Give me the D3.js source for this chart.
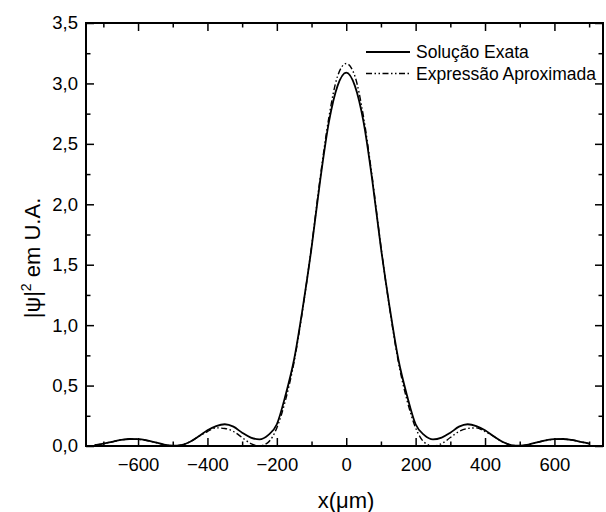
<!DOCTYPE html>
<html><head><meta charset="utf-8">
<script src="https://cdn.jsdelivr.net/npm/d3@7"></script>
<style>body{margin:0;background:#fff}svg{display:block}text{font-family:"Liberation Sans",Arial,sans-serif;fill:#000}</style>
</head><body><svg id="c" width="606" height="512"></svg>
<script>
const xValues = [-725,-700,-675,-650,-625,-600,-575,-550,-525,-500,-475,-450,-425,-400,-375,-350,-325,-300,-275,-250,-225,-200,-175,-150,-125,-100,-75,-50,-25,0,25,50,75,100,125,150,175,200,225,250,275,300,325,350,375,400,425,450,475,500,525,550,575,600,625,650,675,700];
const exact = [0.008,0.02,0.035,0.05,0.058,0.057,0.047,0.03,0.012,0.003,0.008,0.035,0.08,0.13,0.165,0.18,0.16,0.11,0.07,0.055,0.09,0.18,0.42,0.72,1.15,1.64,2.20,2.68,2.98,3.09,2.98,2.68,2.20,1.64,1.15,0.72,0.42,0.18,0.09,0.055,0.07,0.11,0.16,0.18,0.165,0.13,0.08,0.035,0.008,0.003,0.012,0.03,0.047,0.057,0.058,0.05,0.035,0.02];
const approx = [0.008,0.02,0.035,0.05,0.056,0.055,0.045,0.03,0.01,0.0,0.008,0.035,0.08,0.12,0.15,0.145,0.12,0.07,0.02,0.0,0.03,0.15,0.38,0.70,1.14,1.65,2.22,2.72,3.06,3.165,3.06,2.72,2.22,1.65,1.14,0.70,0.38,0.15,0.03,0.0,0.02,0.07,0.12,0.145,0.15,0.12,0.08,0.035,0.008,0.0,0.01,0.03,0.045,0.055,0.056,0.05,0.035,0.02];
const xTicks = [-600,-400,-200,0,200,400,600];
const xMinor = [-700,-500,-300,-100,100,300,500,700];
const yTicks = [0,0.5,1.0,1.5,2.0,2.5,3.0,3.5];
const yMinor = [0.25,0.75,1.25,1.75,2.25,2.75,3.25];
const seriesNames = ["Solução Exata","Expressão Aproximada"];

const L=86,R=603,T=23,B=446;
const svg=d3.select("#c");
const x=d3.scaleLinear().domain([-750,740]).range([L,R]);
const y=d3.scaleLinear().domain([0,3.5]).range([B,T]);
const fmt=d=>d3.format(".1f")(d).replace(".",",");

// curves
const line=d3.line().x((d,i)=>x(xValues[i])).y(d=>y(d)).curve(d3.curveMonotoneX);
svg.append("path").attr("d",line(approx)).attr("fill","none").attr("stroke","#000").attr("stroke-width",1.4).attr("stroke-dasharray","6,2.5,1.5,2.5,1.5,2.5");
svg.append("path").attr("d",line(exact)).attr("fill","none").attr("stroke","#000").attr("stroke-width",1.8);

// axes
const ax=(g,axis)=>{g.call(axis);g.select(".domain").remove();g.selectAll("line").attr("stroke","#000").attr("stroke-width",1.5);};
ax(svg.append("g").attr("transform",`translate(0,${B})`),d3.axisBottom(x).tickValues(xTicks).tickSize(-8).tickPadding(12).tickFormat(d3.format("d")));
ax(svg.append("g").attr("transform",`translate(0,${B})`),d3.axisBottom(x).tickValues(xMinor).tickSize(-4.5).tickFormat(""));
ax(svg.append("g").attr("transform",`translate(0,${T})`),d3.axisTop(x).tickValues(xTicks).tickSize(-8).tickFormat(""));
ax(svg.append("g").attr("transform",`translate(0,${T})`),d3.axisTop(x).tickValues(xMinor).tickSize(-4.5).tickFormat(""));
ax(svg.append("g").attr("transform",`translate(${L},0)`),d3.axisLeft(y).tickValues(yTicks).tickSize(-8).tickPadding(8).tickFormat(fmt));
ax(svg.append("g").attr("transform",`translate(${L},0)`),d3.axisLeft(y).tickValues(yMinor).tickSize(-4.5).tickFormat(""));
ax(svg.append("g").attr("transform",`translate(${R},0)`),d3.axisRight(y).tickValues(yTicks).tickSize(-8).tickFormat(""));
ax(svg.append("g").attr("transform",`translate(${R},0)`),d3.axisRight(y).tickValues(yMinor).tickSize(-4.5).tickFormat(""));
svg.selectAll(".tick text").style("font-size","18.5px").attr("font-family","Liberation Sans, Arial, sans-serif").attr("fill","#000");
svg.append("rect").attr("x",L).attr("y",T).attr("width",R-L).attr("height",B-T).attr("fill","none").attr("stroke","#000").attr("stroke-width",2);

// titles
svg.append("text").attr("x",346).attr("y",508).attr("text-anchor","middle").style("font-size","22px").text("x(μm)");
const yt=svg.append("text").attr("transform","translate(40,258) rotate(-90)").attr("text-anchor","middle").style("font-size","22px");
yt.append("tspan").text("|ψ|");
yt.append("tspan").attr("dy",-9).style("font-size","14px").text("2");
yt.append("tspan").attr("dy",9).text(" em U.A.");

// legend
const lg=svg.append("g");
const styles=[{w:1.8,da:null},{w:1.4,da:"6,2.5,1.5,2.5,1.5,2.5"}];
seriesNames.forEach((n,i)=>{
  const yy=52+i*21.5;
  lg.append("line").attr("x1",366).attr("x2",410).attr("y1",yy).attr("y2",yy).attr("stroke","#000").attr("stroke-width",styles[i].w).attr("stroke-dasharray",styles[i].da);
  lg.append("text").attr("x",416).attr("y",yy+6).style("font-size","17.5px").text(n);
});
</script></body></html>
